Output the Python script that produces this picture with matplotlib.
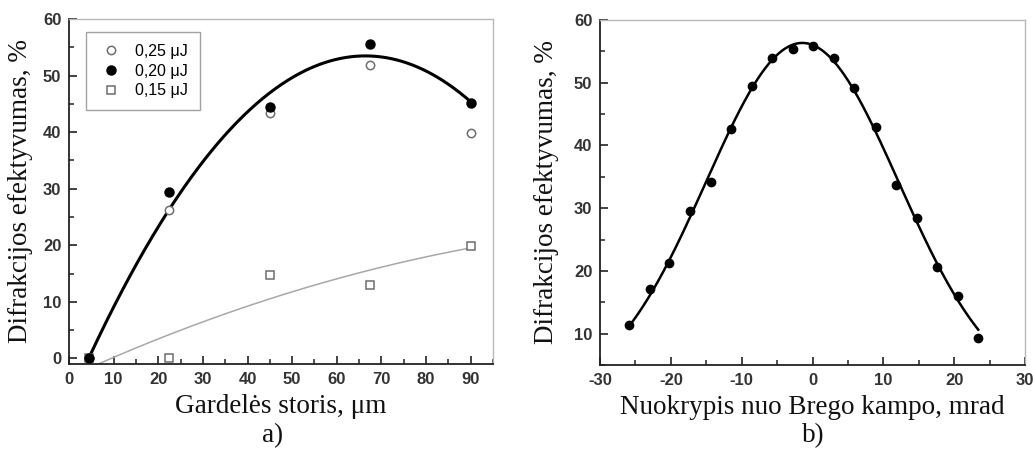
import numpy as np
import matplotlib
matplotlib.use("Agg")
import matplotlib.pyplot as plt
from matplotlib.ticker import MultipleLocator

# ---------------- data: panel a ----------------
thickness_um = [4.5, 22.5, 45.0, 67.5, 90.0]
eff_025 = [0.0, 26.3, 43.3, 51.9, 39.8]
eff_020 = [0.1, 29.5, 44.5, 55.6, 45.1]
eff_015 = [0.0, 0.1, 14.8, 13.0, 19.8]
labels_a = ["0,25 \u03bcJ", "0,20 \u03bcJ", "0,15 \u03bcJ"]

# fit curves
fit020_x = [4.5, 10.0, 22.5, 30.0, 45.0, 55.0, 65.0, 78.0, 90.0]
fit020_y = [0.2, 9.0, 26.3, 35.0, 46.8, 51.5, 53.7, 51.4, 45.4]
fit015_x = [6.5, 22.5, 47.5, 67.5, 90.0]
fit015_y = [-1.0, 4.2, 11.1, 15.7, 19.5]

# ---------------- data: panel b ----------------
deviation_mrad = [-25.9, -23.0, -20.2, -17.3, -14.4, -11.5, -8.5, -5.7, -2.8,
                  0.05, 3.0, 5.9, 8.9, 11.8, 14.7, 17.6, 20.5, 23.4]
eff_b = [11.3, 17.05, 21.3, 29.5, 34.1, 42.7, 49.5, 54.0, 55.3,
         55.8, 53.9, 49.2, 43.0, 33.7, 28.5, 20.6, 16.0, 9.3]

SERIF = ["Liberation Serif", "DejaVu Serif"]
SANS = ["Liberation Sans", "DejaVu Sans"]
plt.rcParams["font.family"] = SANS
plt.rcParams["axes.unicode_minus"] = False

fig = plt.figure(figsize=(10.33, 4.5), dpi=100)
W, H = 1033, 450
LABEL_FS = 19.5


def make_ax(l, r, t, b):
    return fig.add_axes([l / W, 1 - b / H, (r - l) / W, (b - t) / H])


def style(ax):
    for s in ["top", "right"]:
        ax.spines[s].set_color("#b8b8b8")
        ax.spines[s].set_linewidth(1.0)
    for s in ["left", "bottom"]:
        ax.spines[s].set_color("#222222")
        ax.spines[s].set_linewidth(1.3)
    ax.tick_params(which="both", direction="in", top=False, right=False,
                   color="#222222", labelsize=12, labelcolor="#333333")
    ax.tick_params(which="major", length=6, width=1.2)
    ax.tick_params(axis="x", which="major", pad=6)
    ax.tick_params(axis="y", which="major", pad=5.5)
    ax.tick_params(which="minor", length=3.5, width=1.1)
    for lab in ax.get_xticklabels() + ax.get_yticklabels():
        lab.set_fontweight("bold")


# ---------------- panel a ----------------
ax1 = make_ax(69, 493, 19, 364)
p = np.polyfit(fit015_x, fit015_y, 2)
xx = np.linspace(fit015_x[0], fit015_x[-1], 200)
ax1.plot(xx, np.polyval(p, xx), color="#a8a8a8", lw=1.1, zorder=2)
p = np.polyfit(fit020_x, fit020_y, 3)
xx = np.linspace(fit020_x[0], fit020_x[-1], 300)
ax1.plot(xx, np.polyval(p, xx), color="black", lw=2.2, zorder=3)

ax1.plot(thickness_um, eff_025, "o", ms=6, mfc="white", mec="#6e6e6e",
         mew=1.1, ls="none", label=labels_a[0], zorder=4)
ax1.plot(thickness_um, eff_020, "o", ms=6.5, mfc="black", mec="black",
         ls="none", label=labels_a[1], zorder=5)
ax1.plot(thickness_um, eff_015, "s", ms=5.5, mfc="white", mec="#6e6e6e",
         mew=1.1, ls="none", label=labels_a[2], zorder=4)

ax1.set_xlim(0, 95)
ax1.set_ylim(-1, 60)
ax1.xaxis.set_major_locator(MultipleLocator(10))
ax1.xaxis.set_minor_locator(MultipleLocator(5))
ax1.yaxis.set_major_locator(MultipleLocator(10))
ax1.yaxis.set_minor_locator(MultipleLocator(5))
style(ax1)
ax1.set_xlabel("Gardel\u0117s storis, \u03bcm", family=SERIF, fontsize=LABEL_FS,
               labelpad=5, color="#111111")
ax1.set_ylabel("Difrakcijos efektyvumas, %", family=SERIF, fontsize=LABEL_FS,
               labelpad=7, color="#111111")
leg = ax1.legend(loc="upper left", bbox_to_anchor=(0.040, 0.963),
                 fontsize=11.5, frameon=True, fancybox=False,
                 edgecolor="#8a8a8a", borderpad=0.75, handletextpad=0.7,
                 labelspacing=0.3, handlelength=1.6, borderaxespad=0)
leg.get_frame().set_linewidth(1.0)
fig.text(273 / W, 1 - 436 / H, "a)", family=SERIF, fontsize=LABEL_FS,
         ha="center", va="center", color="#111111")

# ---------------- panel b ----------------
ax2 = make_ax(600, 1025, 20, 365)
xb = np.asarray(deviation_mrad)
yb = np.asarray(eff_b)
g = np.polyfit(xb, np.log(yb), 2, w=yb)
xx = np.linspace(xb[0], xb[-1], 300)
ax2.plot(xx, np.exp(np.polyval(g, xx)), color="black", lw=1.8, zorder=3)
ax2.plot(deviation_mrad, eff_b, "o", ms=6, color="black", ls="none", zorder=4)
ax2.set_xlim(-30, 30)
ax2.set_ylim(5, 60)
ax2.xaxis.set_major_locator(MultipleLocator(10))
ax2.xaxis.set_minor_locator(MultipleLocator(5))
ax2.yaxis.set_major_locator(MultipleLocator(10))
ax2.yaxis.set_minor_locator(MultipleLocator(5))
style(ax2)
ax2.set_xlabel("Nuokrypis nuo Brego kampo, mrad", family=SERIF,
               fontsize=LABEL_FS, labelpad=5, color="#111111")
ax2.set_ylabel("Difrakcijos efektyvumas, %", family=SERIF, fontsize=LABEL_FS,
               labelpad=11, color="#111111")
fig.text(813 / W, 1 - 436 / H, "b)", family=SERIF, fontsize=LABEL_FS,
         ha="center", va="center", color="#111111")

fig.savefig("out.png", dpi=100, facecolor="white")
